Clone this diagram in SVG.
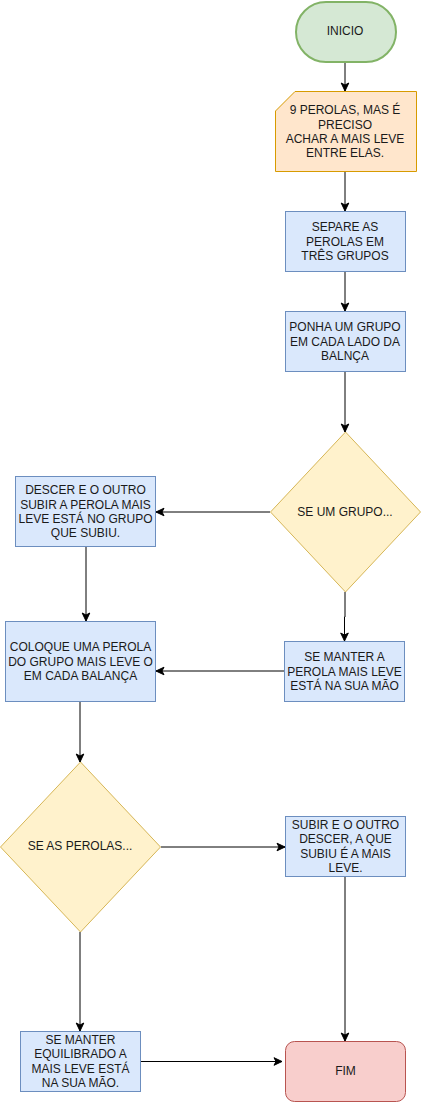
<svg xmlns="http://www.w3.org/2000/svg" width="421" height="1102" viewBox="0 0 421 1102">
<style>
text{font-family:"Liberation Sans",Arial,Helvetica,sans-serif;font-size:12px;fill:#1a1a1a;text-anchor:middle}
.green{fill:#d5e8d4;stroke:#82b366;stroke-width:2}
.orange{fill:#ffe6cc;stroke:#d79b00;stroke-width:1}
.blue{fill:#dae8fc;stroke:#6c8ebf;stroke-width:1}
.yellow{fill:#fff2cc;stroke:#d6b656;stroke-width:1}
.red{fill:#f8cecc;stroke:#b85450;stroke-width:1}
.edge{fill:none;stroke:#000;stroke-width:1;marker-end:url(#arr)}
</style>
<defs>
<marker id="arr" markerUnits="userSpaceOnUse" markerWidth="10" markerHeight="10" viewBox="0 0 10 10" refX="9" refY="5" orient="auto">
<path d="M1,1.2 L9,5 L1,8.8 L3,5 Z" fill="#000" stroke="#000" stroke-width="1"/>
</marker>
</defs>
<g id="connectors">
<path class="edge" d="M345,62 L345,91"/>
<path class="edge" d="M345,172 L345,211"/>
<path class="edge" d="M345,271 L345,311"/>
<path class="edge" d="M345,371 L345,432"/>
<path class="edge" d="M270,512 L156,512"/>
<path class="edge" d="M345,592 L345,617 L344.5,617 L344.5,641"/>
<path class="edge" d="M86,547 L86,621"/>
<path class="edge" d="M285,671 L156,671"/>
<path class="edge" d="M80,702 L80,762"/>
<path class="edge" d="M161,847 L285,847"/>
<path class="edge" d="M80,932 L80,1031"/>
<path class="edge" d="M345,877 L345,1041"/>
<path class="edge" d="M141,1061.5 L282,1061.5"/>
</g>
<g id="inicio">
<rect class="green" x="296" y="2" width="100" height="60" rx="30" ry="30"/>
<text x="345" y="35.3">INICIO</text>
</g>
<g id="perolas">
<path class="orange" d="M295,91.5 L416.5,91.5 L416.5,171.5 L275.5,171.5 L275.5,111 Z"/>
<text x="345" y="114.3">9 PEROLAS, MAS É</text>
<text x="345" y="128.5">PRECISO</text>
<text x="345" y="142.7">ACHAR A MAIS LEVE</text>
<text x="345" y="157">ENTRE ELAS.</text>
</g>
<g id="separe">
<rect class="blue" x="285.5" y="211.5" width="120" height="60"/>
<text x="345" y="231.3">SEPARE AS</text>
<text x="345" y="245.6">PEROLAS EM</text>
<text x="345" y="259.9">TRÊS GRUPOS</text>
</g>
<g id="ponha">
<rect class="blue" x="285.5" y="311.5" width="120" height="60"/>
<text x="345" y="331.3">PONHA UM GRUPO</text>
<text x="345" y="345.6">EM CADA LADO DA</text>
<text x="345" y="359.9">BALNÇA</text>
</g>
<g id="se-um-grupo">
<path class="yellow" d="M345.5,432 L420.5,512 L345.5,592 L270.5,512 Z"/>
<text x="345" y="516.3">SE UM GRUPO...</text>
</g>
<g id="descer">
<rect class="blue" x="15.5" y="476.5" width="140" height="70"/>
<text x="85.5" y="494.3">DESCER E O OUTRO</text>
<text x="85.5" y="508.6">SUBIR A PEROLA MAIS</text>
<text x="85.5" y="522.9">LEVE ESTÁ NO GRUPO</text>
<text x="85.5" y="537.2">QUE SUBIU.</text>
</g>
<g id="coloque">
<rect class="blue" x="5.5" y="621.5" width="150" height="80"/>
<text x="80.5" y="651.3">COLOQUE UMA PEROLA</text>
<text x="80.5" y="665.6">DO GRUPO MAIS LEVE O</text>
<text x="80.5" y="679.9">EM CADA BALANÇA</text>
</g>
<g id="se-manter-a">
<rect class="blue" x="284.5" y="641.5" width="120" height="60"/>
<text x="344.5" y="661.3">SE MANTER A</text>
<text x="344.5" y="675.6">PEROLA MAIS LEVE</text>
<text x="344.5" y="689.9">ESTÁ NA SUA MÃO</text>
</g>
<g id="se-as-perolas">
<path class="yellow" d="M80.5,762 L160.5,847 L80.5,932 L0.5,847 Z"/>
<text x="80" y="850.3">SE AS PEROLAS...</text>
</g>
<g id="subir">
<rect class="blue" x="285.5" y="816.5" width="120" height="60"/>
<text x="345.5" y="829">SUBIR E O OUTRO</text>
<text x="345.5" y="843.2">DESCER, A QUE</text>
<text x="345.5" y="857.5">SUBIU É A MAIS</text>
<text x="345.5" y="871.8">LEVE.</text>
</g>
<g id="se-manter-equilibrado">
<rect class="blue" x="20.5" y="1031.5" width="120" height="60"/>
<text x="80.5" y="1044">SE MANTER</text>
<text x="80.5" y="1058.2">EQUILIBRADO A</text>
<text x="80.5" y="1072.5">MAIS LEVE ESTÁ</text>
<text x="80.5" y="1086.8">NA SUA MÃO.</text>
</g>
<g id="fim">
<rect class="red" x="285.5" y="1041.5" width="120" height="60" rx="9" ry="9"/>
<text x="345.5" y="1075.3">FIM</text>
</g>
</svg>
